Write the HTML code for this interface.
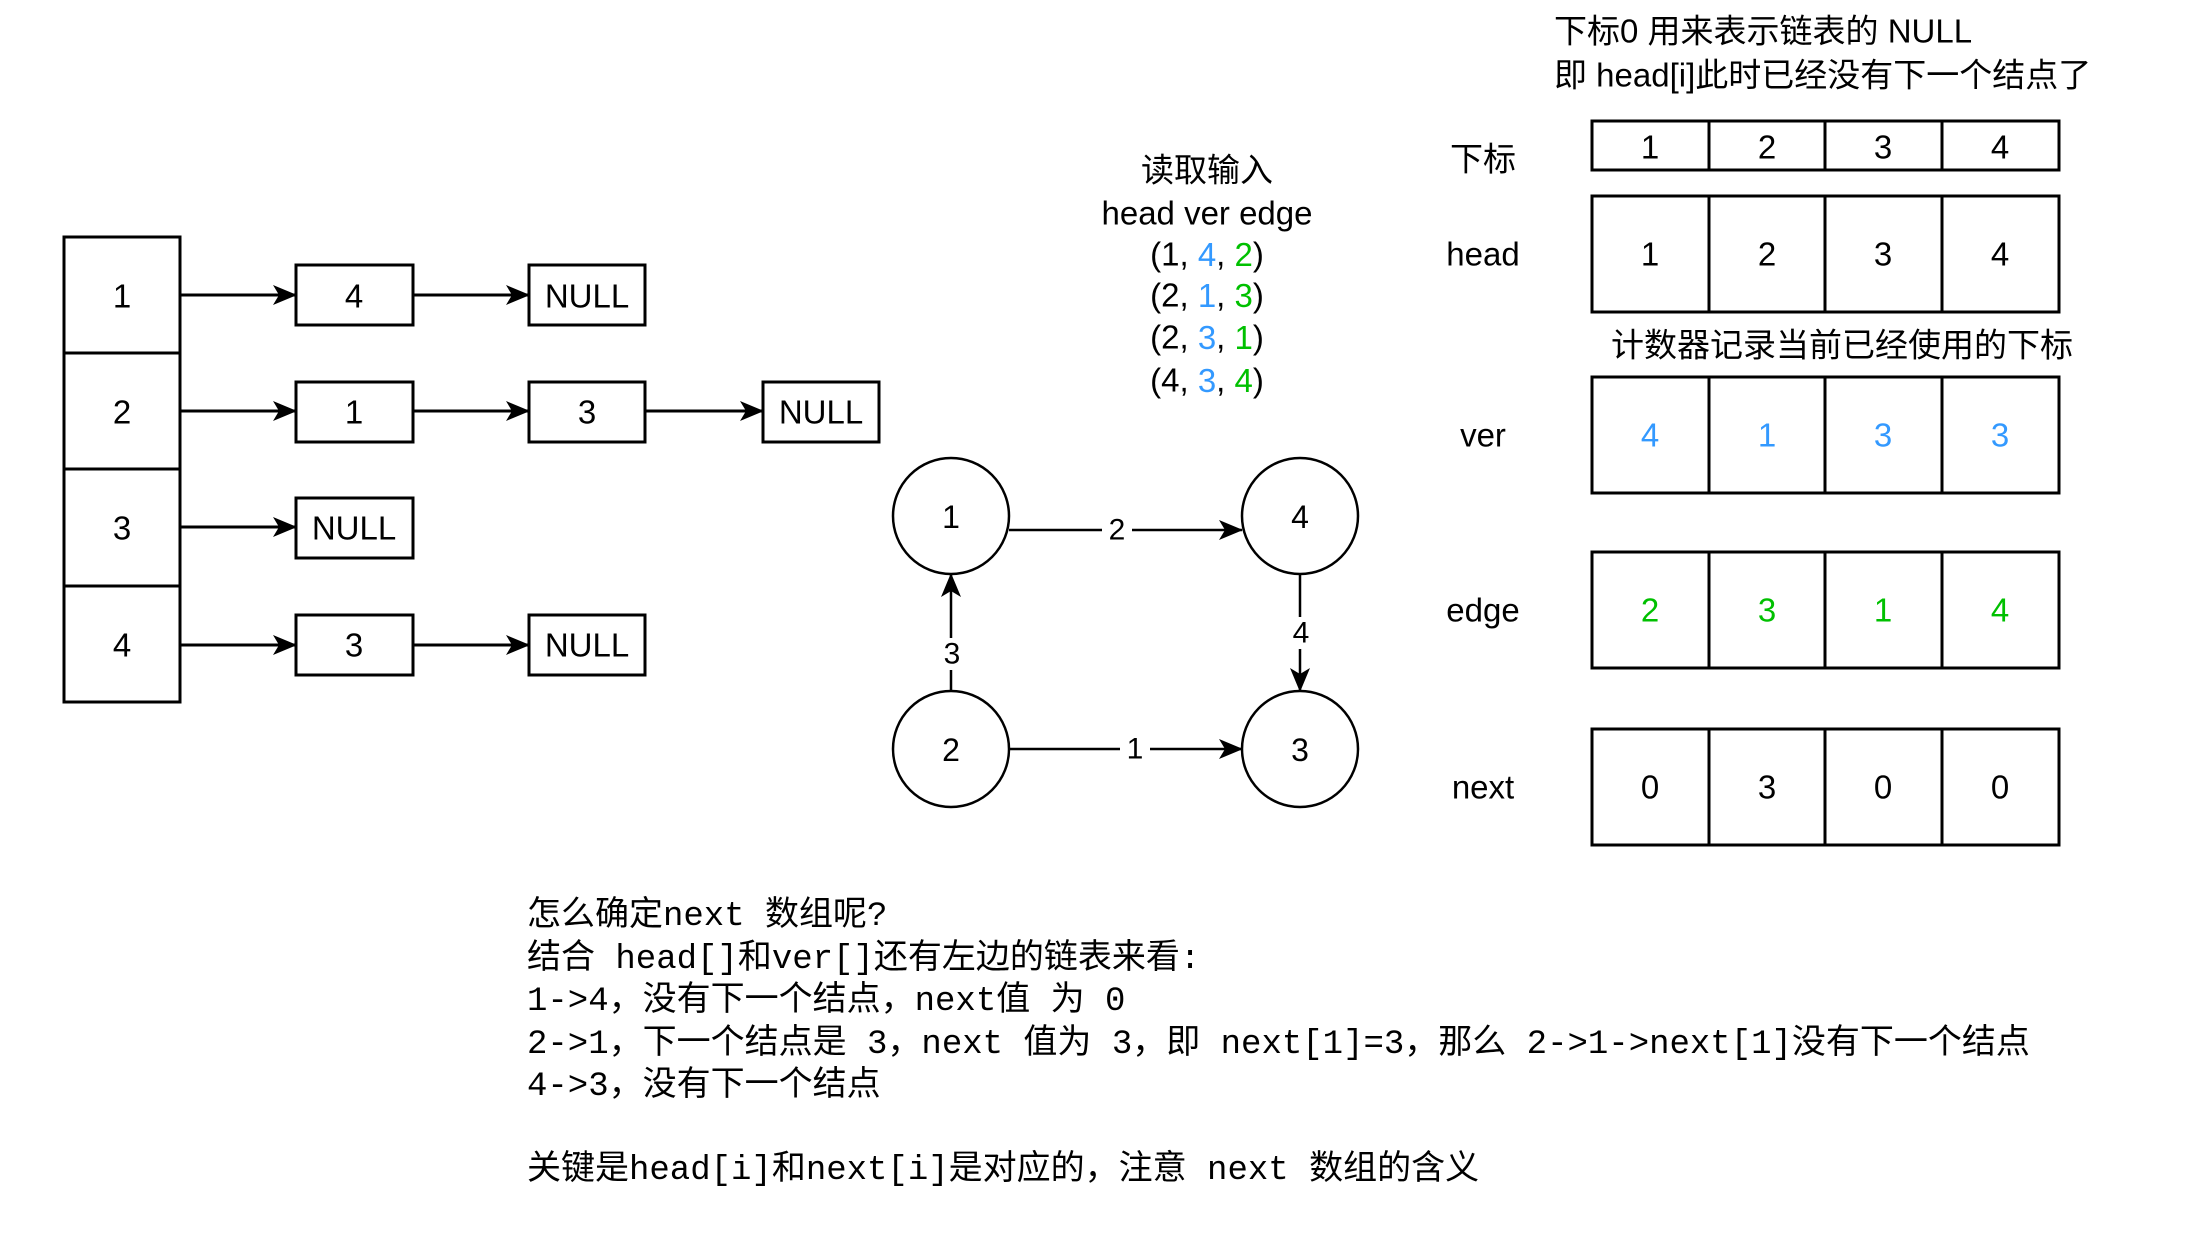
<!DOCTYPE html>
<html><head><meta charset="utf-8"><style>
html,body{margin:0;padding:0;background:#fff;}
svg{display:block;}
.s{font-family:"Liberation Sans","Noto Sans CJK SC",sans-serif;}
.m{font-family:"Liberation Mono","Noto Sans CJK SC",monospace;}
</style></head><body>
<svg width="2198" height="1240" viewBox="0 0 2198 1240" xmlns="http://www.w3.org/2000/svg">
<defs>
<marker id="a" markerWidth="14" markerHeight="14" refX="13" refY="7" orient="auto" markerUnits="userSpaceOnUse" viewBox="0 0 14 14">
<path d="M0,0 L14,7 L0,14 L4,7 Z" fill="#000"/></marker>
<marker id="b" markerWidth="24" markerHeight="24" refX="23" refY="12" orient="auto" markerUnits="userSpaceOnUse" viewBox="0 0 24 24">
<path d="M0,2 L24,12 L0,22 L6,12 Z" fill="#000"/></marker>
</defs>
<g fill="none" stroke="#000" stroke-width="3">
<rect x="64" y="237" width="116" height="465"/>
<line x1="64" y1="353" x2="180" y2="353"/><line x1="64" y1="469" x2="180" y2="469"/><line x1="64" y1="586" x2="180" y2="586"/>
<rect x="296" y="265" width="117" height="60"/><rect x="529" y="265" width="116" height="60"/>
<rect x="296" y="382" width="117" height="60"/><rect x="529" y="382" width="116" height="60"/><rect x="763" y="382" width="116" height="60"/>
<rect x="296" y="498" width="117" height="60"/>
<rect x="296" y="615" width="117" height="60"/><rect x="529" y="615" width="116" height="60"/>
</g>
<g stroke="#000" stroke-width="3" marker-end="url(#b)">
<line x1="180" y1="295" x2="296" y2="295"/><line x1="413" y1="295" x2="529" y2="295"/>
<line x1="180" y1="411" x2="296" y2="411"/><line x1="413" y1="411" x2="529" y2="411"/><line x1="645" y1="411" x2="763" y2="411"/>
<line x1="180" y1="527" x2="296" y2="527"/>
<line x1="180" y1="645" x2="296" y2="645"/><line x1="413" y1="645" x2="529" y2="645"/>
</g>
<g class="s" font-size="33" text-anchor="middle" dominant-baseline="central" fill="#000">
<text x="122" y="296">1</text><text x="122" y="412">2</text><text x="122" y="528">3</text><text x="122" y="645">4</text>
<text x="354" y="296">4</text><text x="587" y="296">NULL</text>
<text x="354" y="412">1</text><text x="587" y="412">3</text><text x="821" y="412">NULL</text>
<text x="354" y="528">NULL</text>
<text x="354" y="645">3</text><text x="587" y="645">NULL</text>
</g>
<!-- graph -->
<g fill="none" stroke="#000" stroke-width="2.5">
<circle cx="951" cy="516" r="58"/><circle cx="1300" cy="516" r="58"/>
<circle cx="951" cy="749" r="58"/><circle cx="1300" cy="749" r="58"/>
</g>
<g stroke="#000" stroke-width="2.5" marker-end="url(#b)">
<line x1="1009" y1="530" x2="1242" y2="530"/>
<line x1="1300" y1="574" x2="1300" y2="691"/>
<line x1="951" y1="691" x2="951" y2="574"/>
<line x1="1009" y1="749" x2="1242" y2="749"/>
</g>
<g class="s" font-size="30" text-anchor="middle" dominant-baseline="central">
<rect x="1102" y="515" width="30" height="30" fill="#fff"/><text x="1117" y="530">2</text>
<rect x="1288" y="617" width="26" height="32" fill="#fff"/><text x="1301" y="633">4</text>
<rect x="938" y="638" width="26" height="32" fill="#fff"/><text x="952" y="654">3</text>
<rect x="1120" y="734" width="30" height="30" fill="#fff"/><text x="1135" y="749">1</text>
<text x="951" y="517" font-size="32">1</text><text x="1300" y="517" font-size="32">4</text>
<text x="951" y="750" font-size="32">2</text><text x="1300" y="750" font-size="32">3</text>
</g>
<g class="s" font-size="33" text-anchor="middle" dominant-baseline="central">
<text x="1207" y="170">读取输入</text>
<text x="1207" y="213">head ver edge</text>
<text x="1207" y="254">(1, <tspan fill="#3399ff">4</tspan>, <tspan fill="#00c000">2</tspan>)</text>
<text x="1207" y="295">(2, <tspan fill="#3399ff">1</tspan>, <tspan fill="#00c000">3</tspan>)</text>
<text x="1207" y="337">(2, <tspan fill="#3399ff">3</tspan>, <tspan fill="#00c000">1</tspan>)</text>
<text x="1207" y="380">(4, <tspan fill="#3399ff">3</tspan>, <tspan fill="#00c000">4</tspan>)</text>
</g>
<!-- tables -->
<g class="s" font-size="33" dominant-baseline="central">
<text x="1554" y="31">下标0 用来表示链表的 NULL</text>
<text x="1554" y="75">即 head[i]此时已经没有下一个结点了</text>
</g>
<g fill="none" stroke="#000" stroke-width="3">
<rect x="1592" y="121" width="467" height="49"/>
<rect x="1592" y="196" width="467" height="116"/>
<rect x="1592" y="377" width="467" height="116"/>
<rect x="1592" y="552" width="467" height="116"/>
<rect x="1592" y="729" width="467" height="116"/>
<path d="M1709 121V170M1825 121V170M1942 121V170M1709 196V312M1825 196V312M1942 196V312M1709 377V493M1825 377V493M1942 377V493M1709 552V668M1825 552V668M1942 552V668M1709 729V845M1825 729V845M1942 729V845"/>
</g>
<g class="s" font-size="33" text-anchor="middle" dominant-baseline="central">
<text x="1483" y="159">下标</text><text x="1483" y="254">head</text><text x="1483" y="435">ver</text><text x="1483" y="610">edge</text><text x="1483" y="787">next</text>
<text x="1842" y="345">计数器记录当前已经使用的下标</text>
<text x="1650" y="147">1</text><text x="1767" y="147">2</text><text x="1883" y="147">3</text><text x="2000" y="147">4</text>
<text x="1650" y="254">1</text><text x="1767" y="254">2</text><text x="1883" y="254">3</text><text x="2000" y="254">4</text>
<g fill="#3399ff"><text x="1650" y="435">4</text><text x="1767" y="435">1</text><text x="1883" y="435">3</text><text x="2000" y="435">3</text></g>
<g fill="#00c000"><text x="1650" y="610">2</text><text x="1767" y="610">3</text><text x="1883" y="610">1</text><text x="2000" y="610">4</text></g>
<text x="1650" y="787">0</text><text x="1767" y="787">3</text><text x="1883" y="787">0</text><text x="2000" y="787">0</text>
</g>
<g class="m" font-size="34" dominant-baseline="central" style="white-space:pre">
<text x="527" y="917" xml:space="preserve">怎么确定next 数组呢?</text>
<text x="527" y="960" xml:space="preserve">结合 head[]和ver[]还有左边的链表来看:</text>
<text x="527" y="1002" xml:space="preserve">1-&gt;4，没有下一个结点，next值 为 0</text>
<text x="527" y="1045" xml:space="preserve">2-&gt;1，下一个结点是 3，next 值为 3，即 next[1]=3，那么 2-&gt;1-&gt;next[1]没有下一个结点</text>
<text x="527" y="1087" xml:space="preserve">4-&gt;3，没有下一个结点</text>
<text x="527" y="1171" xml:space="preserve">关键是head[i]和next[i]是对应的，注意 next 数组的含义</text>
</g>
</svg>
</body></html>
